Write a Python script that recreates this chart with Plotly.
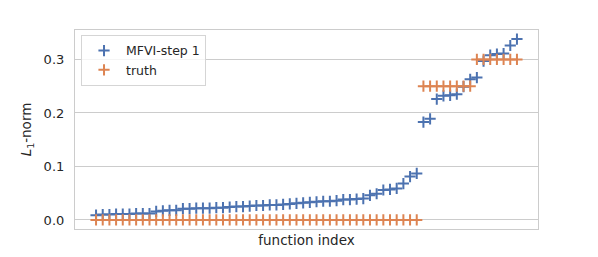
import plotly.graph_objects as go

mfvi = [0.009, 0.010, 0.010, 0.011, 0.011, 0.011, 0.012, 0.012, 0.012,
        0.016, 0.017, 0.018, 0.018, 0.021, 0.021, 0.022, 0.022, 0.022,
        0.023, 0.023, 0.024, 0.025, 0.025, 0.026, 0.027, 0.027, 0.028,
        0.028, 0.029, 0.030, 0.031, 0.032, 0.033, 0.034, 0.035, 0.035,
        0.036, 0.038, 0.038, 0.039, 0.040, 0.046, 0.049, 0.056, 0.057,
        0.059, 0.068, 0.081, 0.087,
        0.183, 0.189, 0.226, 0.232, 0.233, 0.235, 0.249, 0.263,
        0.266, 0.297, 0.308, 0.310, 0.311, 0.326, 0.338]
truth = [0.0] * 49 + [0.25] * 8 + [0.3] * 7
idx = list(range(len(mfvi)))
yticks = [0.0, 0.1, 0.2, 0.3]
ytick_labels = ["0.0", "0.1", "0.2", "0.3"]

fig = go.Figure()
fig.add_trace(go.Scatter(x=idx, y=mfvi, mode="markers", name="MFVI-step 1",
                         marker=dict(symbol="cross-thin", size=8, color="#4c72b0",
                                     line=dict(width=2, color="#4c72b0"))))
fig.add_trace(go.Scatter(x=idx, y=truth, mode="markers", name="truth",
                         marker=dict(symbol="cross-thin", size=8, color="#dd8452",
                                     line=dict(width=2, color="#dd8452"))))

fig.update_layout(
    width=598, height=257,
    margin=dict(l=67, r=68, t=22, b=36, autoexpand=False),
    paper_bgcolor="white", plot_bgcolor="white",
    font=dict(family="DejaVu Sans", size=13, color="#262626"),
    showlegend=True,
    legend=dict(x=0.013, y=0.975, xanchor="left", yanchor="top",
                bgcolor="rgba(255,255,255,0.8)", bordercolor="#d5d5d5", borderwidth=1,
                font=dict(size=12.5), itemwidth=34, tracegroupgap=0),
    xaxis=dict(range=[-3.15, 66.15], showgrid=False, zeroline=False,
               showticklabels=False, ticks="",
               showline=True, mirror=True, linecolor="#cccccc", linewidth=1.2,
               title=dict(text="function index", standoff=6, font=dict(size=13.5))),
    yaxis=dict(range=[-0.0169, 0.355], tickvals=yticks, ticktext=ytick_labels,
               showgrid=True, gridcolor="#cccccc", gridwidth=1, zeroline=False,
               showline=True, mirror=True, linecolor="#cccccc", linewidth=1.2,
               ticks="", tickfont=dict(size=13), ticklabelstandoff=7,
               title=dict(text="<i>L</i><sub>1</sub>-norm", standoff=8, font=dict(size=13.5))),
)
fig.write_html("out.html")
